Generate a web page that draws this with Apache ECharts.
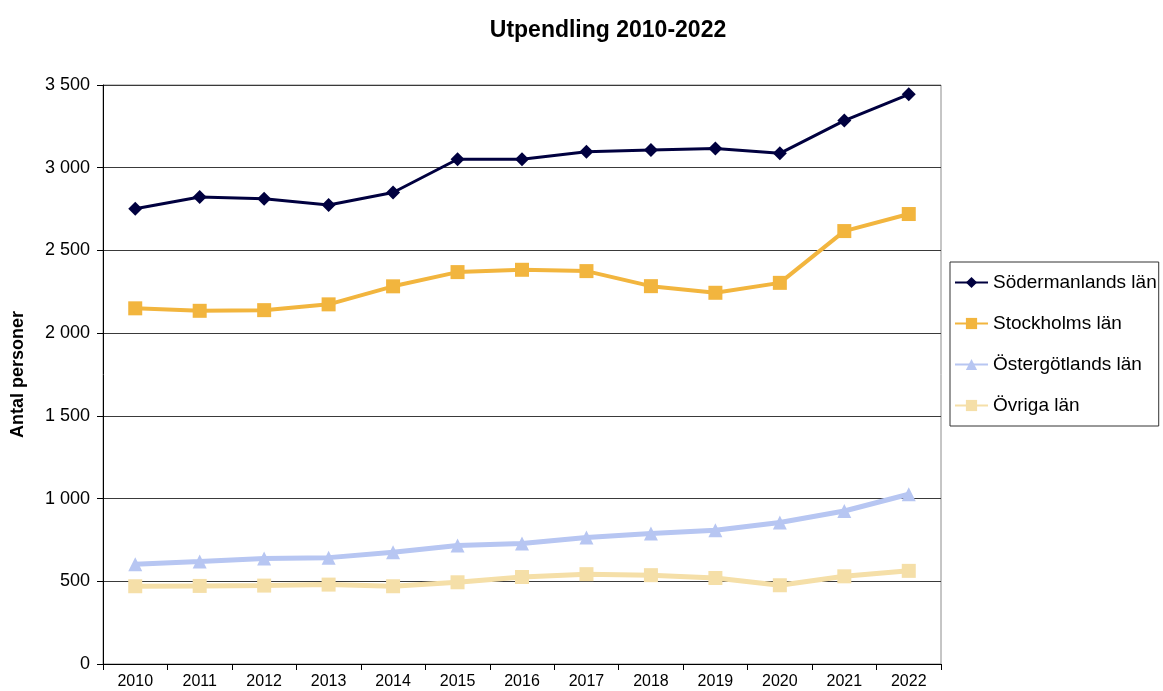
<!DOCTYPE html>
<html>
<head>
<meta charset="utf-8">
<script src="https://cdn.jsdelivr.net/npm/echarts@6/dist/echarts.min.js"></script>
<style>
html,body{margin:0;padding:0;background:#fff;}
#chart{width:1163px;height:691px;}
</style>
</head>
<body>
<div id="chart"></div>
<script>
const years = ['2010','2011','2012','2013','2014','2015','2016','2017','2018','2019','2020','2021','2022'];
const sodermanland = [2752, 2823, 2812, 2775, 2850, 3051, 3051, 3097, 3107, 3116, 3087, 3285, 3444];
const stockholm = [2150, 2135, 2139, 2174, 2283, 2369, 2383, 2375, 2284, 2244, 2304, 2617, 2720];
const ostergotland = [603, 619, 638, 643, 675, 716, 728, 764, 789, 809, 855, 925, 1026];
const ovriga = [470, 472, 474, 480, 470, 494, 526, 543, 537, 520, 476, 530, 563];
const seriesNames = ['Södermanlands län', 'Stockholms län', 'Östergötlands län', 'Övriga län'];

const font = 'Liberation Sans, Arial, sans-serif';
const chart = echarts.init(document.getElementById('chart'), null, {renderer: 'canvas'});

function fmt(v) {
  return String(v).replace(/\B(?=(\d{3})+(?!\d))/g, ' ');
}

chart.setOption({
  animation: false,
  backgroundColor: '#ffffff',
  title: {
    text: 'Utpendling 2010-2022',
    left: 603,
    textAlign: 'center',
    top: 14,
    textStyle: {fontFamily: font, fontSize: 23, fontWeight: 'bold', color: '#000'}
  },
  legend: {
    orient: 'vertical',
    left: 950,
    top: 262,
    padding: [11, 2, 11, 4],
    itemGap: 22,
    itemWidth: 33,
    itemHeight: 14,
    borderColor: '#333',
    borderWidth: 1,
    textStyle: {fontFamily: font, fontSize: 19, color: '#000'},
    data: seriesNames
  },
  grid: {
    left: 103,
    right: 222,
    top: 85,
    bottom: 27,
    show: true,
    borderColor: '#8c8c8c',
    borderWidth: 1
  },
  xAxis: {
    type: 'category',
    data: years,
    boundaryGap: true,
    axisLine: {lineStyle: {color: '#000', width: 1}},
    axisTick: {show: true, inside: false, length: 6, lineStyle: {color: '#000'}, interval: 0},
    axisLabel: {fontFamily: font, fontSize: 16, color: '#000', margin: 10, interval: 0},
    splitLine: {show: false}
  },
  yAxis: {
    type: 'value',
    min: 0,
    max: 3500,
    interval: 500,
    name: 'Antal personer',
    nameLocation: 'middle',
    nameGap: 76,
    nameRotate: 90,
    nameTextStyle: {fontFamily: font, fontSize: 18, fontWeight: 'bold', color: '#000'},
    axisLine: {show: true, lineStyle: {color: '#000', width: 1}},
    axisTick: {show: true, inside: false, length: 6, lineStyle: {color: '#000'}},
    axisLabel: {fontFamily: font, fontSize: 18, color: '#000', margin: 13, formatter: fmt},
    splitLine: {show: true, lineStyle: {color: '#3a3a3a', width: 1}}
  },
  series: [
    {
      name: seriesNames[0],
      type: 'line',
      data: sodermanland,
      symbol: 'diamond',
      symbolSize: 14,
      color: '#00003f',
      lineStyle: {color: '#00003f', width: 3},
      itemStyle: {color: '#00003f'},
      z: 5
    },
    {
      name: seriesNames[1],
      type: 'line',
      data: stockholm,
      symbol: 'rect',
      symbolSize: 14,
      color: '#f2b53e',
      lineStyle: {color: '#f2b53e', width: 4},
      itemStyle: {color: '#f2b53e'},
      z: 4
    },
    {
      name: seriesNames[2],
      type: 'line',
      data: ostergotland,
      symbol: 'triangle',
      symbolSize: 14,
      color: '#b7c6f2',
      lineStyle: {color: '#b7c6f2', width: 5},
      itemStyle: {color: '#b7c6f2'},
      z: 3
    },
    {
      name: seriesNames[3],
      type: 'line',
      data: ovriga,
      symbol: 'rect',
      symbolSize: 14,
      color: '#f5dfa8',
      lineStyle: {color: '#f5dfa8', width: 5},
      itemStyle: {color: '#f5dfa8'},
      z: 2
    }
  ]
});
</script>
</body>
</html>
